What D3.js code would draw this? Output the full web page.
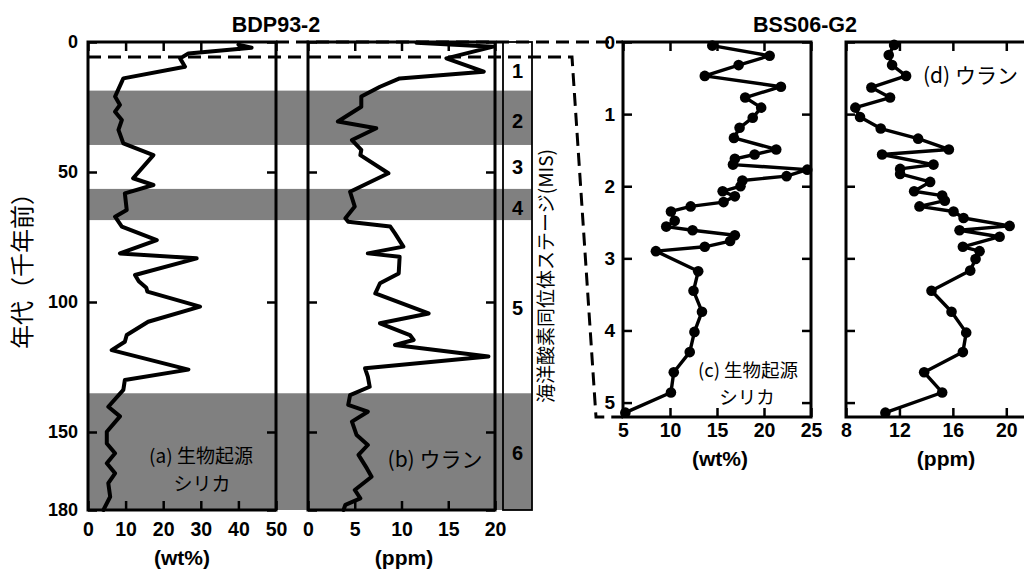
<!DOCTYPE html>
<html><head><meta charset="utf-8">
<script src="https://cdn.jsdelivr.net/npm/d3@7"></script>
<style>body{margin:0;background:#fff}svg{display:block}</style>
</head><body><svg id="chart" width="1024" height="575"></svg>
<script>
// ---------- DATA ----------
// BDP93-2 (a) biogenic silica, wt%
const ageA = [1.0, 2.2, 4.4, 6.3, 9.5, 14, 21, 24.2, 26.8, 30, 33.8, 39, 43.5, 52.4, 55, 58.2, 64.6, 67.2, 71, 76.2, 81.3, 83.2, 89.6, 92, 94.5, 96, 101.8, 107.6, 112.7, 115.3, 118.5, 126, 130, 133.8, 140.3, 144, 149.9, 154.4, 158.2, 162, 165.9, 169.7, 174.9, 180];
const silicaA = [40, 43.5, 26.7, 24.5, 25.8, 9.4, 7.2, 8.5, 7.2, 9, 8.1, 9.4, 17.4, 12, 17.4, 9.8, 10.3, 7.2, 9, 18.3, 8.5, 28.9, 12.5, 13.5, 15.5, 15.8, 29.8, 16, 10.3, 9.8, 6.3, 26.7, 9.8, 9.4, 5.4, 8.5, 5, 5, 7.2, 5, 7.2, 5.4, 5.9, 4.1];
// BDP93-2 (b) uranium, ppm
const ageB = [0.3, 1.8, 6.3, 11.4, 14, 17.2, 21, 24.9, 30.6, 33.2, 37.7, 41.5, 43.5, 50.5, 57.6, 63.3, 67.8, 69.1, 71, 73.6, 78.7, 81.3, 82.6, 89, 92.8, 96.7, 104.4, 108.2, 112.7, 114.6, 116.5, 121, 125.5, 128.7, 132.6, 135.8, 139.6, 142.2, 146, 151.2, 155, 158.8, 164, 167.2, 172.3, 175.5, 178, 180];
const uraniumB = [11.6, 19.8, 14.8, 18.8, 9.8, 7.7, 5.7, 5.7, 3.2, 7.3, 4.7, 5.7, 5.6, 8.6, 4.5, 5, 4, 4.3, 8.8, 9.3, 10.2, 6.4, 9.8, 9.7, 7.7, 7.2, 12.9, 7.7, 10.9, 11.3, 9.3, 19.3, 6.1, 6.4, 6.6, 4.5, 4.3, 6.4, 4.7, 5.2, 6.4, 5.4, 6.3, 6.8, 5, 5.6, 4, 3.8];
// BSS06-G2 (c) biogenic silica, wt%
const ageC = [0.05, 0.19, 0.32, 0.47, 0.62, 0.77, 0.91, 1.05, 1.19, 1.33, 1.49, 1.56, 1.62, 1.70, 1.77, 1.86, 1.92, 2.0, 2.07, 2.14, 2.22, 2.28, 2.35, 2.48, 2.56, 2.61, 2.68, 2.76, 2.84, 2.90, 3.18, 3.45, 3.74, 4.02, 4.30, 4.58, 4.86, 5.14];
const silicaC = [14.5, 20.6, 17.3, 13.7, 21.8, 18, 19.7, 18.8, 17.4, 16.8, 21.3, 19, 16.9, 16.7, 24.6, 22.4, 17.7, 17.5, 15.6, 16.9, 15.7, 12.2, 10.1, 10.5, 9.6, 12.4, 16.9, 16.4, 13.7, 8.5, 13, 12.5, 13.4, 12.6, 12.1, 10.4, 10.1, 5.25];
// BSS06-G2 (d) uranium, ppm
const ageD = [0.04, 0.18, 0.32, 0.47, 0.63, 0.77, 0.91, 1.04, 1.20, 1.34, 1.49, 1.56, 1.70, 1.76, 1.83, 1.94, 2.07, 2.13, 2.20, 2.28, 2.35, 2.44, 2.55, 2.61, 2.70, 2.84, 2.90, 3.01, 3.17, 3.45, 3.74, 4.03, 4.30, 4.58, 4.86, 5.14];
const uraniumD = [11.6, 11.2, 11.45, 12.5, 9.9, 11.3, 8.7, 9.05, 10.6, 13.4, 15.7, 10.7, 14.55, 12.05, 12.05, 14.3, 13.1, 15.2, 15.4, 13.5, 16.05, 16.8, 20.25, 16.5, 19.5, 16.75, 18, 17.7, 17.3, 14.4, 15.9, 17, 16.75, 13.85, 15.2, 10.95];
// Marine isotope stages (ka)
const misStart = [18.7, 56.5, 135.1];
const misEnd = [39.6, 68.5, 180];
const misNames = ["1", "2", "3", "4", "5", "6"];
const misNameAges = [11.2, 30.4, 48, 63.8, 102.3, 158];
const zoomAge = 5.8; // BSS06-G2 span shown on BDP93-2
// Tick values
const ticksAx = [0, 10, 20, 30, 40, 50];
const ticksBx = [0, 5, 10, 15, 20];
const ticksAgeLong = [0, 50, 100, 150, 180];
const ticksCx = [5, 10, 15, 20, 25];
const ticksDx = [8, 12, 16, 20];
const ticksAgeShort = [0, 1, 2, 3, 4, 5];

// ---------- SETUP ----------
const svg = d3.select('#chart');
const LAT = '"Liberation Sans", Arial, sans-serif';
const CJK = '"Noto Sans CJK JP", "Noto Sans CJK SC", sans-serif';
const GRAY = '#808080';

const yAge = d3.scaleLinear().domain([0, 180]).range([42, 510]);
const xA = d3.scaleLinear().domain([0, 50]).range([88, 276]);
const xB = d3.scaleLinear().domain([0, 20]).range([308, 495]);
const yC = d3.scaleLinear().domain([0, 5.2]).range([42, 417]);
const xC = d3.scaleLinear().domain([5, 25]).range([623, 811]);
const xD = d3.scaleLinear().domain([8, 22]).range([846, 1033]);
const misCol = [503, 532];

svg.append('rect').attr('width', 1024).attr('height', 575).attr('fill', '#fff');

// gray stage bands
svg.append('g').selectAll('rect').data(misStart).join('rect')
  .attr('x', xA.range()[0]).attr('width', misCol[1] - xA.range()[0])
  .attr('y', d => yAge(d)).attr('height', (d, i) => yAge(misEnd[i]) - yAge(d))
  .attr('fill', GRAY);

// dashed zoom guides
const dash = svg.append('g').attr('fill', 'none').attr('stroke', '#000')
  .attr('stroke-width', 3).attr('stroke-dasharray', '13,7');
dash.append('line').attr('x1', xA.range()[1]).attr('x2', xC.range()[0])
  .attr('y1', yAge(0)).attr('y2', yAge(0));
dash.append('path').attr('d', d3.line()([
  [xA.range()[0], yAge(zoomAge)], [572, yAge(zoomAge)],
  [596, yC(5.2)], [xC.range()[0], yC(5.2)]
]));

// MIS column
svg.append('rect').attr('x', misCol[0]).attr('y', yAge(0))
  .attr('width', misCol[1] - misCol[0]).attr('height', yAge(180) - yAge(0))
  .attr('fill', 'none').attr('stroke', '#000').attr('stroke-width', 1.8);
svg.append('g').selectAll('text').data(misNames).join('text')
  .attr('x', (misCol[0] + misCol[1]) / 2).attr('y', (d, i) => yAge(misNameAges[i]))
  .attr('dy', '0.36em').attr('text-anchor', 'middle')
  .attr('font-family', LAT).attr('font-weight', 'bold').attr('font-size', 20)
  .text(d => d);

function panel(x, y, xt, yt, opts) {
  const g = svg.append('g');
  const [x0, x1] = x.range(), [y0, y1] = y.range();
  const ts = -9;
  const style = sel => {
    sel.select('.domain').remove();
    sel.selectAll('.tick line').attr('stroke', '#000').attr('stroke-width', 2.5);
    sel.selectAll('text').attr('font-family', LAT).attr('font-weight', 'bold').attr('fill', '#000');
  };
  g.append('g').attr('transform', `translate(0,${y1})`)
    .call(d3.axisBottom(x).tickValues(xt).tickSize(ts).tickPadding(opts.xpad).tickSizeOuter(0))
    .call(style).call(s => s.selectAll('text').attr('font-size', opts.xfs));
  g.append('g').attr('transform', `translate(0,${y0})`)
    .call(d3.axisTop(x).tickValues(xt).tickSize(ts).tickFormat('').tickSizeOuter(0))
    .call(style);
  g.append('g').attr('transform', `translate(${x0},0)`)
    .call(d3.axisLeft(y).tickValues(yt).tickSize(ts).tickPadding(opts.ypad).tickSizeOuter(0)
      .tickFormat(opts.ylabels ? d3.format('d') : ''))
    .call(style).call(s => s.selectAll('text').attr('font-size', opts.yfs));
  g.append('g').attr('transform', `translate(${x1},0)`)
    .call(d3.axisRight(y).tickValues(yt).tickSize(ts).tickFormat('').tickSizeOuter(0))
    .call(style);
  g.append('rect').attr('x', x0).attr('y', y0).attr('width', x1 - x0).attr('height', y1 - y0)
    .attr('fill', 'none').attr('stroke', '#000').attr('stroke-width', 3);
  return g;
}

panel(xA, yAge, ticksAx, ticksAgeLong, {xpad: 12, ypad: 10, xfs: 19.5, yfs: 18, ylabels: true});
panel(xB, yAge, ticksBx, ticksAgeLong, {xpad: 12, ypad: 10, xfs: 19.5, yfs: 18, ylabels: false});
panel(xC, yC, ticksCx, ticksAgeShort, {xpad: 6, ypad: 8, xfs: 19.5, yfs: 19, ylabels: true});
panel(xD, yC, ticksDx, ticksAgeShort, {xpad: 6, ypad: 8, xfs: 19.5, yfs: 19, ylabels: false});

// data lines
function series(x, y, ages, vals, dots) {
  const pts = ages.map((a, i) => [x(vals[i]), y(a)]);
  svg.append('path').attr('d', d3.line()(pts)).attr('fill', 'none')
    .attr('stroke', '#000').attr('stroke-width', dots ? 3.4 : 4)
    .attr('stroke-linejoin', 'round').attr('stroke-linecap', 'round');
  if (dots) svg.append('g').selectAll('circle').data(pts).join('circle')
    .attr('cx', d => d[0]).attr('cy', d => d[1]).attr('r', 5.3).attr('fill', '#000');
}
series(xA, yAge, ageA, silicaA, false);
series(xB, yAge, ageB, uraniumB, false);
series(xC, yC, ageC, silicaC, true);
series(xD, yC, ageD, uraniumD, true);

// text
function txt(x, y, s, o = {}) {
  const t = svg.append('text').attr('x', x).attr('y', y).text(s)
    .attr('font-family', o.cjk ? CJK : LAT).attr('font-size', o.fs || 18)
    .attr('font-weight', o.bold ? 'bold' : 'normal')
    .attr('text-anchor', o.anchor || 'middle').attr('fill', '#000');
  if (o.rot) t.attr('transform', `rotate(-90,${x},${y})`);
  return t;
}
txt((xA.range()[1]), 32, 'BDP93-2', {bold: true, fs: 21.5});
txt(805, 32, 'BSS06-G2', {bold: true, fs: 21.5});
txt(182, 565, '(wt%)', {bold: true, fs: 21});
txt(404, 565, '(ppm)', {bold: true, fs: 21});
txt(720, 466, '(wt%)', {bold: true, fs: 21});
txt(946, 466, '(ppm)', {bold: true, fs: 21});
txt(201, 463, '(a) 生物起源', {cjk: true, fs: 19});
txt(202, 491, 'シリカ', {cjk: true, fs: 19});
txt(435, 467, '(b) ウラン', {cjk: true, fs: 21});
txt(748, 377, '(c) 生物起源', {cjk: true, fs: 18.5});
txt(747, 404, 'シリカ', {cjk: true, fs: 18.5});
txt(923, 83, '(d) ウラン', {cjk: true, fs: 21, anchor: 'start'});
txt(31, 265, '年代（千年前）', {cjk: true, fs: 24, rot: true});
txt(553, 276, '海洋酸素同位体ステージ(MIS)', {cjk: true, fs: 19, rot: true});
</script></body></html>
